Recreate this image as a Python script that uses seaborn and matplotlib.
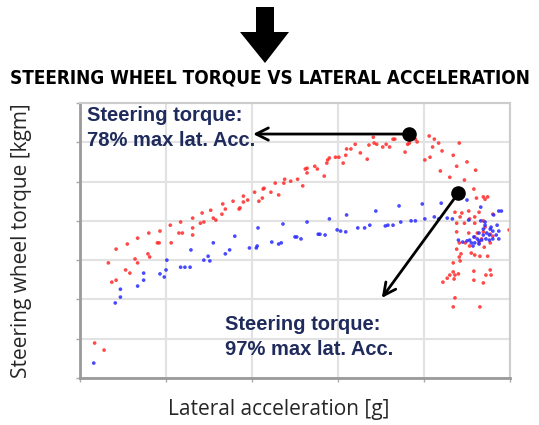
import numpy as np
import pandas as pd
import matplotlib
matplotlib.use('Agg')
import matplotlib.pyplot as plt
import seaborn as sns
from matplotlib.patches import Polygon

# Datos (unidades de cuadricula: x 0-5, y 0-7)
red_x = [0.17, 0.28, 0.33, 0.37, 0.42, 0.42, 0.53, 0.58, 0.55, 0.64, 0.67, 0.67, 0.79, 0.81, 0.80,
         0.90, 0.92, 0.93, 1.05, 1.06, 1.15, 1.19, 1.17, 1.31, 1.31, 1.31, 1.40, 1.42, 1.44, 1.52,
         1.55, 1.58, 1.66, 1.69, 1.65, 1.78, 1.85, 1.86, 1.90, 1.90, 1.95, 2.03, 2.08, 2.12, 2.13,
         2.14, 2.22, 2.27, 2.31, 2.37, 2.38, 2.45, 2.53, 2.59, 2.62, 2.64, 2.64, 2.73, 2.76, 2.84,
         2.87, 2.88, 2.90, 2.97, 3.01, 3.06, 3.09, 3.10, 3.15, 3.20, 3.26, 3.34, 3.36, 3.42, 3.45,
         3.41, 3.52, 3.56, 3.60, 3.64, 3.66, 3.78, 3.81, 3.83, 3.90, 3.92, 4.06, 4.12, 4.10, 4.17,
         4.21, 4.41, 4.01, 4.07, 4.34, 4.19, 4.38, 4.50, 4.30, 4.47, 4.60, 4.58,
         4.34, 4.42, 4.69, 4.74, 4.36, 4.44, 4.52, 4.64, 4.80, 4.99, 4.38, 4.47, 4.59, 4.69, 4.71,
         4.52, 4.62, 4.69, 4.77, 4.80, 4.59, 4.67, 4.38, 4.41, 4.48, 4.64, 4.77, 4.70, 4.53, 4.55,
         4.59, 4.65, 4.74, 4.43, 4.38, 4.41, 4.42, 4.34, 4.34, 4.30, 4.36, 4.40, 4.27, 4.22, 4.35,
         4.58, 4.58, 4.69, 4.72, 4.77, 4.78, 4.36, 4.34, 4.65, 4.42, 4.53, 4.59, 4.61, 4.71]
red_y = [0.89, 0.71, 2.93, 2.44, 2.49, 3.28, 2.75, 2.67, 3.41, 3.03, 2.93, 3.56, 3.16, 3.08, 3.69,
         3.44, 3.44, 3.74, 3.89, 3.44, 3.69, 3.69, 3.97, 3.82, 3.64, 4.07, 3.94, 4.20, 3.97, 4.27,
         4.07, 4.02, 4.43, 4.30, 4.17, 4.50, 4.30, 4.33, 4.48, 4.63, 4.53, 4.73, 4.50, 4.58, 4.81,
         4.83, 4.73, 4.96, 4.66, 4.96, 5.06, 5.01, 5.06, 4.89, 5.32, 5.34, 5.22, 5.39, 5.32, 5.14,
         5.47, 5.55, 5.60, 5.62, 5.62, 5.47, 5.67, 5.83, 5.83, 5.95, 5.73, 5.57, 5.93, 5.98, 5.95,
         6.13, 5.88, 5.95, 5.88, 6.08, 6.08, 5.75, 5.95, 5.98, 6.08, 6.01, 6.16, 6.08, 5.88, 5.98,
         5.78, 5.98, 5.55, 5.62, 5.67, 5.27, 5.39, 5.50, 5.11, 5.04, 5.29, 4.81,
         4.66, 4.76, 4.61, 4.61, 4.22, 4.20, 4.25, 4.22, 4.17, 3.77, 3.94, 3.94, 3.94, 4.00, 3.84,
         3.69, 3.69, 3.72, 3.66, 3.61, 3.59, 3.54, 3.72, 3.44, 3.44, 3.44, 3.44, 3.33, 3.36, 3.18,
         3.13, 3.10, 3.10, 3.16, 3.28, 3.08, 2.98, 2.93, 2.70, 2.62, 2.62, 2.65, 2.54, 2.44, 2.52,
         2.72, 2.49, 2.42, 2.62, 2.75, 2.62, 2.04, 1.81, 1.81, 4.10, 4.05, 4.10, 4.58, 4.55]

blue_x = [0.16, 0.41, 0.47, 0.47, 0.67, 0.74, 0.74, 0.93, 0.98, 1.00, 1.01, 1.17, 1.22, 1.28, 1.29,
          1.44, 1.49, 1.51, 1.55, 1.69, 1.74, 1.80, 1.97, 2.05, 2.06, 2.07, 2.23, 2.31, 2.34, 2.36,
          2.50, 2.52, 2.57, 2.64, 2.77, 2.79, 2.85, 2.90, 2.99, 3.03, 3.09, 3.10, 3.23, 3.31, 3.37,
          3.44, 3.55, 3.58, 3.64, 3.71, 3.73, 3.85, 3.90, 3.98, 4.01, 4.12, 4.17, 4.20, 4.27, 4.33,
          4.50, 4.66, 4.81, 4.90, 4.52, 4.66, 4.71, 4.85, 4.87, 4.84, 4.77, 4.73, 4.69, 4.64, 4.58,
          4.50, 4.45, 4.40, 4.55, 4.59, 4.62, 4.64, 4.67, 4.72, 4.76, 4.80, 4.87, 4.80, 4.76, 4.69,
          4.64, 4.57, 4.53, 4.78, 4.71, 4.87]
blue_y = [0.38, 1.91, 2.06, 2.26, 2.34, 2.49, 2.67, 2.65, 2.57, 2.75, 3.00, 2.82, 2.82, 2.82, 3.26,
          3.00, 3.10, 2.98, 3.44, 3.16, 3.26, 3.61, 3.31, 3.31, 3.36, 3.82, 3.46, 3.41, 3.44, 3.92,
          3.59, 3.59, 3.54, 3.97, 3.66, 3.66, 3.64, 4.05, 3.77, 3.74, 3.72, 4.15, 3.82, 3.82, 3.89,
          4.25, 3.87, 3.89, 3.89, 4.38, 3.97, 4.00, 4.00, 4.43, 4.05, 4.10, 4.05, 4.45, 4.07, 4.05,
          4.53, 4.35, 4.15, 4.25, 4.02, 4.00, 3.89, 3.89, 3.74, 3.64, 3.79, 3.69, 3.79, 3.69, 3.59,
          3.49, 3.46, 3.51, 3.44, 3.44, 3.54, 3.41, 3.51, 3.54, 3.51, 3.54, 3.54, 3.74, 3.64, 3.64,
          3.49, 3.36, 3.51, 3.84, 3.97, 4.25]

# Puntos de las anotaciones
point_78 = (3.83, 6.21)
text_78_x = 1.98
point_97 = (4.40, 4.71)
arrow_97_end = (3.49, 1.98)

df = pd.concat([
    pd.DataFrame({'acc': red_x, 'torque': red_y, 'serie': 'rojo'}),
    pd.DataFrame({'acc': blue_x, 'torque': blue_y, 'serie': 'azul'}),
])

sns.set_style('white')
plt.rcParams['font.family'] = ['DejaVu Sans']

fig = plt.figure(figsize=(5.39, 4.25), dpi=100)
ax = fig.add_axes([80 / 539, 47 / 425, 430 / 539, 275 / 425])

sns.scatterplot(data=df, x='acc', y='torque', hue='serie',
                palette={'rojo': '#ff2a2a', 'azul': '#2a2aff'},
                s=7, linewidth=0, alpha=0.85, legend=False, ax=ax)

ax.set_xlim(0, 5)
ax.set_ylim(0, 7)
ax.set_xticks(range(6))
ax.set_yticks(range(8))
ax.set_xticklabels([])
ax.set_yticklabels([])
ax.grid(True, color='#e2e2e2', lw=1.5)
ax.set_axisbelow(True)
ax.tick_params(axis='both', length=3, width=1, color='#aaaaaa', direction='out', bottom=True, left=True)
for side in ['top', 'right']:
    ax.spines[side].set_color('#cccccc')
    ax.spines[side].set_linewidth(1.5)
for side in ['left', 'bottom']:
    ax.spines[side].set_color('#9a9a9a')
    ax.spines[side].set_linewidth(2)

ax.set_xlabel('Lateral acceleration [g]', fontsize=15, family='Open Sans')
ax.xaxis.set_label_coords(0.463, -0.075)
ax.set_ylabel('Steering wheel torque [kgm]', fontsize=15, family='Open Sans', labelpad=28)

# Anotaciones
navy = '#1f2b5c'
ax.annotate('', xy=(text_78_x, point_78[1]), xytext=point_78,
            arrowprops=dict(arrowstyle='->', lw=2, color='black', mutation_scale=22))
ax.scatter([point_78[0]], [point_78[1]], s=90, color='black', zorder=5)
ax.text(0.08, 6.93, 'Steering torque:\n78% max lat. Acc.', fontsize=14.5, fontweight='bold',
        family='Liberation Sans', color=navy, va='top', ha='left', linespacing=1.4)

ax.annotate('', xy=arrow_97_end, xytext=point_97,
            arrowprops=dict(arrowstyle='->', lw=2, color='black', mutation_scale=22))
ax.scatter([point_97[0]], [point_97[1]], s=90, color='black', zorder=5)
ax.text(1.69, 1.6, 'Steering torque:\n97% max lat. Acc.', fontsize=14.5, fontweight='bold',
        family='Liberation Sans', color=navy, va='top', ha='left', linespacing=1.4)

# Titulo y flecha grande
fig.text(0.5, (425 - 78) / 425, 'STEERING WHEEL TORQUE VS LATERAL ACCELERATION',
         fontsize=13.6, fontweight='bold', fontstretch='condensed', color='black',
         ha='center', va='center')
arrow_px = [(256, 7), (274, 7), (274, 32), (289, 32), (265, 63), (240, 32), (256, 32)]
fig.patches.append(Polygon([(x / 539, 1 - y / 425) for x, y in arrow_px], closed=True,
                           transform=fig.transFigure, facecolor='black', edgecolor='none'))

plt.savefig('out.png', dpi=100)
